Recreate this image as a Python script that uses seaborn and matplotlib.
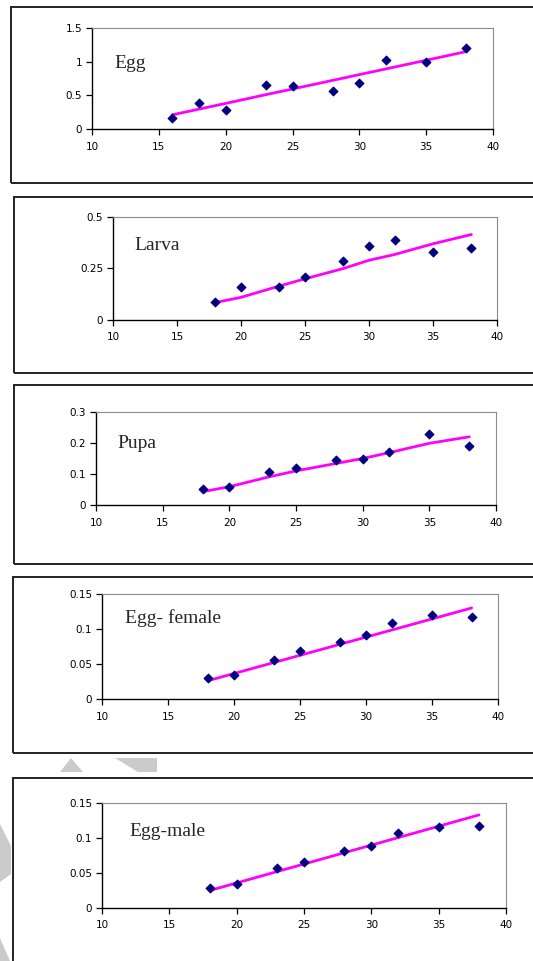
import matplotlib
matplotlib.use("Agg")
import matplotlib.pyplot as plt
import seaborn as sns
from matplotlib.patches import Rectangle, Polygon
from matplotlib.ticker import FuncFormatter, MultipleLocator

# temperatures (deg C)
egg_temp = [16, 18, 20, 23, 25, 28, 30, 32, 35, 38]
temp = [18, 20, 23, 25, 28, 30, 32, 35, 38]

egg_obs = [0.16, 0.38, 0.28, 0.65, 0.64, 0.56, 0.68, 1.02, 1.00, 1.21]
egg_fit = [0.21, 0.295, 0.38, 0.51, 0.594, 0.722, 0.808, 0.893, 1.021, 1.15]

larva_obs = [0.087, 0.162, 0.162, 0.21, 0.286, 0.359, 0.388, 0.329, 0.351]
larva_fit = [0.085, 0.11, 0.165, 0.20, 0.25, 0.29, 0.318, 0.37, 0.415]

pupa_obs = [0.052, 0.057, 0.105, 0.12, 0.145, 0.148, 0.17, 0.228, 0.191]
pupa_fit = [0.043, 0.059, 0.091, 0.11, 0.134, 0.15, 0.169, 0.199, 0.22]

female_obs = [0.0296, 0.035, 0.0557, 0.0686, 0.081, 0.0914, 0.108, 0.12, 0.1176]
female_fit = [0.026, 0.0364, 0.052, 0.0624, 0.078, 0.0884, 0.0988, 0.1144, 0.130]

male_obs = [0.028, 0.035, 0.0576, 0.066, 0.081, 0.089, 0.1067, 0.1153, 0.1176]
male_fit = [0.025, 0.0358, 0.052, 0.0628, 0.079, 0.0898, 0.1006, 0.1168, 0.133]

labels = ["Egg", "Larva", "Pupa", "Egg- female", "Egg-male"]

W, H = 533, 961

# layout in pixels: axes (left, right, top, bottom), box (left, top, bottom), label pos (axes frac)
panels = [
    (egg_temp, egg_obs, egg_fit, 1.5, 0.5, (92, 493, 28, 129), (11, 7, 183), (0.057, 0.65)),
    (temp, larva_obs, larva_fit, 0.5, 0.25, (113, 497, 217, 320), (14, 197, 373), (0.055, 0.72)),
    (temp, pupa_obs, pupa_fit, 0.3, 0.1, (96, 496, 412, 505), (14, 385, 564), (0.053, 0.656)),
    (temp, female_obs, female_fit, 0.15, 0.05, (102, 498, 594, 699), (13, 577, 753), (0.058, 0.77)),
    (temp, male_obs, male_fit, 0.15, 0.05, (102, 506, 803, 908), (13, 778, 975), (0.069, 0.733)),
]

sns.set_style("white")
plt.rcParams['font.family'] = ['DejaVu Sans']

fig = plt.figure(figsize=(W / 100, H / 100), dpi=100)

# faint watermark shapes
for pts in [[(60, 772), (71, 758), (83, 772)],
            [(115, 758), (157, 758), (157, 772), (138, 772)],
            [(0, 824), (11, 846), (11, 874), (0, 882)],
            [(0, 938), (10, 961), (0, 961)]]:
    fig.add_artist(Polygon([(px / W, 1 - py / H) for px, py in pts], closed=True,
                           transform=fig.transFigure, color="#cbcbcb", lw=0))

fmt = FuncFormatter(lambda v, p: "{:g}".format(round(v, 4)))

for i, (x, obs, fit, ymax, ystep, ax_px, box_px, lab_pos) in enumerate(panels):
    bl, bt, bb = box_px
    fig.add_artist(Rectangle((bl / W, 1 - bb / H), (560 - bl) / W, (bb - bt) / H,
                             transform=fig.transFigure, fill=False, ec="#222222", lw=1.4))
    l, r, t, b = ax_px
    ax = fig.add_axes([l / W, 1 - b / H, (r - l) / W, (b - t) / H])
    sns.lineplot(x=x, y=fit, color="#ff00ff", lw=2.0, ax=ax, zorder=2)
    sns.scatterplot(x=x, y=obs, marker="D", color="#000080", edgecolor="#000080",
                    s=20, linewidth=0.8, ax=ax, zorder=3)
    ax.set_xlim(10, 40)
    ax.set_ylim(0, ymax)
    ax.xaxis.set_major_locator(MultipleLocator(5))
    ax.yaxis.set_major_locator(MultipleLocator(ystep))
    ax.yaxis.set_major_formatter(fmt)
    ax.tick_params(axis="both", direction="out", length=4, width=0.9, labelsize=7.5,
                   pad=3, colors="black", bottom=True, left=True)
    ax.tick_params(axis="x", pad=5)
    for s in ["left", "bottom"]:
        ax.spines[s].set_color("black")
        ax.spines[s].set_linewidth(1.0)
    for s in ["top", "right"]:
        ax.spines[s].set_color("#8c8c8c")
        ax.spines[s].set_linewidth(0.8)
    ax.set_xlabel("")
    ax.set_ylabel("")
    ax.text(lab_pos[0], lab_pos[1], labels[i], transform=ax.transAxes,
            family=["Liberation Serif", "DejaVu Serif"], fontsize=14,
            ha="left", va="center")

fig.savefig("out.png", dpi=100, facecolor="white")
